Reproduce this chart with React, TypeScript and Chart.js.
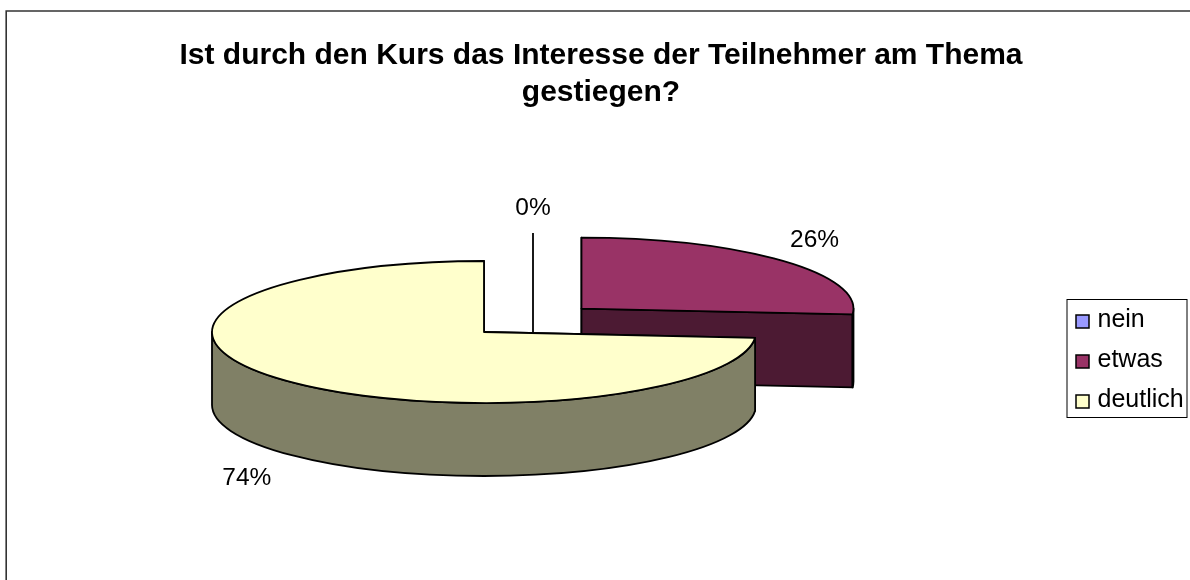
import React, { useEffect, useRef } from "react";
import { Chart, registerables } from "chart.js";

Chart.register(...registerables);

const categories = ["nein", "etwas", "deutlich"];
const responses = [0, 5, 14];
const titleLines = ["Ist durch den Kurs das Interesse der Teilnehmer am Thema", "gestiegen?"];
const topColors = ["#9999FF", "#993366", "#FFFFCC"];
const wallColors = ["#4C4C80", "#4C1A33", "#808066"];
const sliceOffsets = [0, 530, 0];

const FONT = "'Liberation Sans', Arial, sans-serif";
const PIE_X = 484;
const PIE_Y = 332;
const RADIUS = 272;
const TILT = 71 / 272;
const DEPTH = 73;
const LEGEND_FONT = 25;
const LEGEND_PAD = 15;
const SWATCH = 13;
const EDGE = 1.8;
const LABEL_SHIFT = [
  { dx: 49, dy: -53 },
  { dx: 33, dy: -20 },
  { dx: -37, dy: 98 },
];

const piePlugin = {
  id: "pie3d",
  afterLayout(chart: any) {
    const t = chart.titleBlock;
    t.left = 12;
    t.right = 1190;
    t.top = 37;
    const l = chart.legend;
    l.left = 1076 - LEGEND_PAD;
    l.right = 1187;
    l.top = 308 - LEGEND_PAD;
    l.bottom = chart.height;
  },
  beforeDraw(chart: any) {
    const { ctx } = chart;
    ctx.save();
    ctx.fillStyle = "#ffffff";
    ctx.fillRect(0, 0, chart.width, chart.height);
    ctx.strokeStyle = "#333333";
    ctx.lineWidth = 1.6;
    ctx.beginPath();
    ctx.moveTo(6.2, chart.height);
    ctx.lineTo(6.2, 11);
    ctx.lineTo(chart.width, 11);
    ctx.stroke();
    ctx.strokeStyle = "#000000";
    ctx.lineWidth = 1;
    ctx.strokeRect(1067, 299.5, 120, 118);
    ctx.restore();
  },
  beforeDatasetDraw(chart: any, args: any) {
    const { ctx } = chart;
    const meta = chart.getDatasetMeta(args.index);
    const total = responses.reduce((a, b) => a + b, 0);
    ctx.save();
    ctx.strokeStyle = "#000000";
    ctx.lineWidth = EDGE;
    ctx.lineJoin = "round";
    meta.data.forEach((el: any, i: number) => {
      const off = (el.options.offset || 0) / 4;
      const mid = (el.startAngle + el.endAngle) / 2;
      const cx = PIE_X + Math.cos(mid) * off;
      const cy = PIE_Y + Math.sin(mid) * off * TILT;
      if (el.circumference > 0) {
        const rx = el.outerRadius;
        const ry = el.outerRadius * TILT;
        [el.startAngle, el.endAngle].forEach((a: number) => {
          const rimX = cx + Math.cos(a) * rx;
          const rimY = cy + Math.sin(a) * ry;
          ctx.beginPath();
          ctx.moveTo(cx, cy);
          ctx.lineTo(rimX, rimY);
          ctx.lineTo(rimX, rimY + DEPTH);
          ctx.lineTo(cx, cy + DEPTH);
          ctx.closePath();
          ctx.fillStyle = wallColors[i];
          ctx.fill();
          ctx.stroke();
        });
        const a0 = Math.max(el.startAngle, 0);
        const a1 = Math.min(el.endAngle, Math.PI);
        if (a1 > a0) {
          ctx.beginPath();
          ctx.ellipse(cx, cy, rx, ry, 0, a0, a1);
          ctx.ellipse(cx, cy + DEPTH, rx, ry, 0, a1, a0, true);
          ctx.closePath();
          ctx.fillStyle = wallColors[i];
          ctx.fill();
          ctx.stroke();
        }
        ctx.save();
        ctx.translate(PIE_X, PIE_Y);
        ctx.scale(1, TILT);
        ctx.translate(-el.x, -el.y);
        el.draw(ctx, chart.chartArea);
        ctx.restore();
        ctx.beginPath();
        ctx.moveTo(cx, cy);
        ctx.ellipse(cx, cy, rx, ry, 0, el.startAngle, el.endAngle);
        ctx.closePath();
        ctx.stroke();
      }
    });
    ctx.fillStyle = "#000000";
    ctx.font = `24.5px ${FONT}`;
    ctx.textAlign = "center";
    ctx.textBaseline = "middle";
    meta.data.forEach((el: any, i: number) => {
      const off = (el.options.offset || 0) / 4;
      const mid = (el.startAngle + el.endAngle) / 2;
      const x = PIE_X + Math.cos(mid) * (off + el.outerRadius) + LABEL_SHIFT[i].dx;
      const y = PIE_Y + Math.sin(mid) * (off + el.outerRadius) * TILT + LABEL_SHIFT[i].dy;
      ctx.fillText(`${Math.round((responses[i] / total) * 100)}%`, x, y);
      if (responses[i] === 0) {
        ctx.lineWidth = EDGE;
        ctx.beginPath();
        ctx.moveTo(x, y + 25);
        ctx.lineTo(x, PIE_Y);
        ctx.stroke();
      }
    });
    ctx.restore();
    return false;
  },
  afterDraw(chart: any) {
    const { ctx } = chart;
    const l = chart.legend;
    ctx.save();
    ctx.lineWidth = 1.5;
    ctx.strokeStyle = "#000000";
    categories.forEach((_, i) => {
      const y = Math.round(l.top + LEGEND_PAD + i * (LEGEND_FONT + LEGEND_PAD) + (LEGEND_FONT - SWATCH) / 2) + 1;
      ctx.fillStyle = topColors[i];
      ctx.fillRect(l.left + LEGEND_PAD, y, SWATCH, SWATCH);
      ctx.strokeRect(l.left + LEGEND_PAD, y, SWATCH, SWATCH);
    });
    ctx.restore();
  },
};

export default function App() {
  const ref = useRef<HTMLCanvasElement>(null);
  useEffect(() => {
    const chart = new Chart(ref.current as HTMLCanvasElement, {
      type: "pie",
      plugins: [piePlugin],
      data: {
        labels: categories,
        datasets: [
          {
            data: responses,
            backgroundColor: topColors,
            borderWidth: 0,
            offset: sliceOffsets,
          } as any,
        ],
      },
      options: {
        responsive: false,
        animation: false,
        events: [],
        radius: RADIUS,
        cutout: "0%",
        plugins: {
          tooltip: { enabled: false },
          title: {
            display: true,
            text: titleLines,
            color: "#000000",
            align: "center",
            font: { family: FONT, size: 30, weight: "bold", lineHeight: 1.233 },
            padding: 0,
          },
          legend: {
            display: true,
            position: "right",
            align: "start",
            labels: {
              color: "#000000",
              boxWidth: 9,
              boxHeight: 9,
              padding: LEGEND_PAD,
              font: { family: FONT, size: LEGEND_FONT },
              generateLabels: (c: any) =>
                c.data.labels.map((text: string, index: number) => ({
                  text,
                  index,
                  fillStyle: "rgba(0,0,0,0)",
                  strokeStyle: "rgba(0,0,0,0)",
                  lineWidth: 0,
                  fontColor: "#000000",
                })),
            },
          },
        },
      } as any,
    });
    return () => chart.destroy();
  }, []);
  return (
    <canvas
      ref={ref}
      width={1190}
      height={580}
      style={{ position: "fixed", left: 0, top: 0, display: "block" }}
    />
  );
}
